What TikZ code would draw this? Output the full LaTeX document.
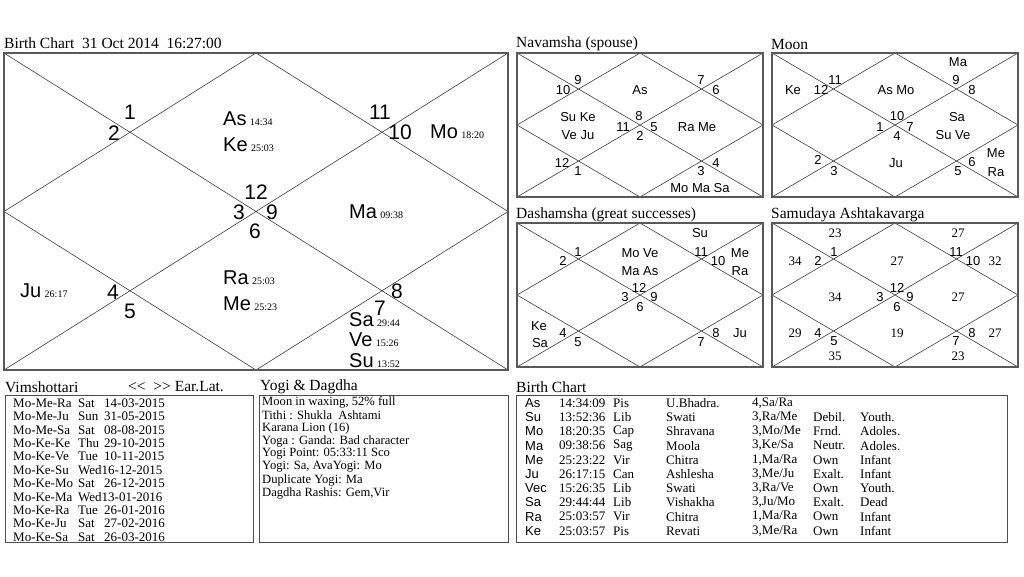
\documentclass[tikz,border=0pt]{standalone}
\usepackage{fontspec}
\setmainfont{Liberation Serif}
\newfontfamily\arialf{Liberation Sans}
\tikzset{
  frame/.style={draw=black!65, line width=1.6pt},
  grid/.style={draw=black!75, line width=0.6pt},
  hn/.style={font=\arialf\fontsize{21}{21}\selectfont, inner sep=0pt},
  pl/.style={font=\arialf\fontsize{20}{20}\selectfont, inner sep=0pt, anchor=west},
  dg/.style={font=\fontsize{10}{10}\selectfont, inner sep=0pt, anchor=base west},
  sn/.style={font=\arialf\fontsize{13}{13}\selectfont, inner sep=0pt},
  av/.style={font=\fontsize{13}{13}\selectfont, inner sep=0pt},
  ttl/.style={font=\fontsize{15.5}{15.5}\selectfont, inner sep=0pt, anchor=west},
  txt/.style={font=\fontsize{13}{13}\selectfont, inner sep=0pt, anchor=west},
  ytx/.style={font=\fontsize{12.6}{12.6}\selectfont, inner sep=0pt, anchor=west},
  stx/.style={font=\arialf\fontsize{13}{13}\selectfont, inner sep=0pt, anchor=west},
  tbox/.style={draw=black!70, line width=1pt},
}
\newcommand\chartframe[4]{%
  \draw[grid] (#1,#2) -- (#3,#4) (#1,#4) -- (#3,#2);
  \draw[grid] ({(#1+#3)/2},#2) -- (#3,{(#2+#4)/2}) -- ({(#1+#3)/2},#4) -- (#1,{(#2+#4)/2}) -- cycle;
  \draw[frame] (#1,#2) rectangle (#3,#4);
}
\newcommand\pd[4]{\node[pl] (#1) at (#2) {#3}; \node[dg] (#1d) at ([xshift=3pt]#1.base east) {#4};}
\newcommand\vrow[4]{%
  \node[txt] (v#1a) at (13,{403+#1*13.4}) {#2};
  \node[txt] (v#1b) at (78,{403+#1*13.4}) {#3};
  \node[txt] (v#1c) at (104,{403+#1*13.4}) {#4};
}
\newcommand\trow[8]{%
  \node[stx] (t#1a) at (525,{403+#1*14.2}) {#2};
  \node[txt] (t#1b) at (559,{403+#1*14.2}) {#3};
  \node[txt] (t#1c) at (613,{403+#1*14.2}) {#4};
  \node[txt] (t#1d) at (666,{403+#1*14.2}) {#5};
  \node[txt] (t#1e) at (752,{403+#1*14.2}) {#6};
  \node[txt] (t#1f) at (813,{403+#1*14.2}) {#7};
  \node[txt] (t#1g) at (860,{403+#1*14.2}) {#8};
}
\begin{document}
\begin{tikzpicture}[x=1pt,y=-1pt]
\fill[white] (0,0) rectangle (1024,576);
\useasboundingbox (0,0) rectangle (1024,576);

% ---------- Main birth chart ----------
\node[ttl] (mt) at (4,43) {Birth Chart\ \ 31 Oct 2014\ \ 16:27:00};
\chartframe{4}{53}{508}{370}
\node[hn] (m1) at (130,112) {1};
\node[hn] (m2) at (114,133) {2};
\node[hn] (m11) at (380,112) {11};
\node[hn] (m10) at (400,132) {10};
\node[hn] (m12) at (256,192) {12};
\node[hn] (m3) at (239,212) {3};
\node[hn] (m9) at (272,212) {9};
\node[hn] (m6) at (255,231) {6};
\node[hn] (m4) at (113,292) {4};
\node[hn] (m5) at (130,311) {5};
\node[hn] (m8) at (397,291) {8};
\node[hn] (m7) at (380,308) {7};
\pd{pAs}{223,119}{As}{14:34}
\pd{pKe}{223,145}{Ke}{25:03}
\pd{pMo}{430,132}{Mo}{18:20}
\pd{pMa}{349,212}{Ma}{09:38}
\pd{pJu}{20,291}{Ju}{26:17}
\pd{pRa}{223,278}{Ra}{25:03}
\pd{pMe}{223,304}{Me}{25:23}
\pd{pSa}{349,320}{Sa}{29:44}
\pd{pVe}{349,340}{Ve}{15:26}
\pd{pSu}{349,361}{Su}{13:52}

% ---------- Navamsha ----------
\node[ttl] (nt) at (516,44) {Navamsha (spouse)};
\chartframe{517}{53}{763}{197}
\node[sn] (n9) at (578,80) {9};
\node[sn] (n10) at (563,90) {10};
\node[sn] (nAs) at (640,90) {As};
\node[sn] (n7) at (701,80) {7};
\node[sn] (n6) at (716,90) {6};
\node[sn] (nSK) at (578,117) {Su Ke};
\node[sn] (nVJ) at (578,135) {Ve Ju};
\node[sn] (n8) at (639,116) {8};
\node[sn] (n11) at (623,127) {11};
\node[sn] (n5) at (654,127) {5};
\node[sn] (n2) at (640,136) {2};
\node[sn] (nRM) at (697,127) {Ra Me};
\node[sn] (n12) at (562,163) {12};
\node[sn] (n1) at (578,171) {1};
\node[sn] (n4) at (716,163) {4};
\node[sn] (n3) at (701,171) {3};
\node[sn] (nMMS) at (700,188) {Mo Ma Sa};

% ---------- Moon ----------
\node[ttl] (ot) at (771,44) {Moon};
\chartframe{772}{53}{1018}{197}
\node[sn] (oMa) at (958,62) {Ma};
\node[sn] (oKe) at (793,90) {Ke};
\node[sn] (o12) at (821,90) {12};
\node[sn] (o11) at (835,80) {11};
\node[sn] (oAM) at (896,90) {As Mo};
\node[sn] (o9) at (956,80) {9};
\node[sn] (o8) at (972,90) {8};
\node[sn] (o10) at (897,116) {10};
\node[sn] (o1) at (880,127) {1};
\node[sn] (o7) at (910,127) {7};
\node[sn] (o4) at (897,136) {4};
\node[sn] (oSa) at (957,117) {Sa};
\node[sn] (oSV) at (953,135) {Su Ve};
\node[sn] (o2) at (818,160) {2};
\node[sn] (o3) at (834,171) {3};
\node[sn] (oJu) at (896,163) {Ju};
\node[sn] (o5) at (958,171) {5};
\node[sn] (o6) at (972,162) {6};
\node[sn] (oMe) at (996,153) {Me};
\node[sn] (oRa) at (996,172) {Ra};

% ---------- Dashamsha ----------
\node[ttl] (dt) at (516,215) {Dashamsha (great successes)};
\chartframe{517}{223}{763}{367}
\node[sn] (dSu) at (700,233) {Su};
\node[sn] (d1) at (578,252) {1};
\node[sn] (d2) at (563,261) {2};
\node[sn] (dMV) at (640,253) {Mo Ve};
\node[sn] (dMA) at (640,271) {Ma As};
\node[sn] (d11) at (701,252) {11};
\node[sn] (d10) at (718,261) {10};
\node[sn] (dMe) at (740,253) {Me};
\node[sn] (dRa) at (740,271) {Ra};
\node[sn] (d12) at (639,288) {12};
\node[sn] (d3) at (625,297) {3};
\node[sn] (d9) at (654,297) {9};
\node[sn] (d6) at (640,307) {6};
\node[sn] (dKe) at (539,326) {Ke};
\node[sn] (dSa) at (540,343) {Sa};
\node[sn] (d4) at (563,333) {4};
\node[sn] (d5) at (578,342) {5};
\node[sn] (d8) at (716,333) {8};
\node[sn] (d7) at (701,342) {7};
\node[sn] (dJu) at (740,333) {Ju};

% ---------- Samudaya Ashtakavarga ----------
\node[ttl] (st) at (771,215) {Samudaya Ashtakavarga};
\chartframe{772}{223}{1018}{367}
\node[av] (s23a) at (835,233) {23};
\node[av] (s27a) at (958,233) {27};
\node[sn] (s1) at (834,252) {1};
\node[av] (s34a) at (795,261) {34};
\node[sn] (s2) at (818,261) {2};
\node[av] (s27b) at (897,261) {27};
\node[sn] (s11) at (956,252) {11};
\node[sn] (s10) at (973,261) {10};
\node[av] (s32) at (995,261) {32};
\node[av] (s34b) at (835,297) {34};
\node[sn] (s12) at (897,288) {12};
\node[sn] (s3) at (880,297) {3};
\node[sn] (s9) at (910,297) {9};
\node[sn] (s6) at (897,307) {6};
\node[av] (s27c) at (958,297) {27};
\node[av] (s29) at (795,333) {29};
\node[sn] (s4) at (818,333) {4};
\node[sn] (s5) at (834,341) {5};
\node[av] (s19) at (897,333) {19};
\node[sn] (s8) at (972,333) {8};
\node[sn] (s7) at (956,341) {7};
\node[av] (s27d) at (995,333) {27};
\node[av] (s35) at (835,356) {35};
\node[av] (s23b) at (958,356) {23};

% ---------- Vimshottari ----------
\node[ttl] (vt) at (5,387) {Vimshottari};
\node[ttl] (vnav) at (128,387) {<\kern0pt<\ \ >\kern0pt>\ Ear.Lat.};
\draw[tbox] (5,395) rectangle (253,542);
\vrow{0}{Mo-Me-Ra}{Sat}{14-03-2015}
\vrow{1}{Mo-Me-Ju}{Sun}{31-05-2015}
\vrow{2}{Mo-Me-Sa}{Sat}{08-08-2015}
\vrow{3}{Mo-Ke-Ke}{Thu}{29-10-2015}
\vrow{4}{Mo-Ke-Ve}{Tue}{10-11-2015}
\node[txt] (v5a) at (13,{403+5*13.4}) {Mo-Ke-Su};
\node[txt] (v5b) at (78,{403+5*13.4}) {Wed16-12-2015};
\vrow{6}{Mo-Ke-Mo}{Sat}{26-12-2015}
\node[txt] (v7a) at (13,{403+7*13.4}) {Mo-Ke-Ma};
\node[txt] (v7b) at (78,{403+7*13.4}) {Wed13-01-2016};
\vrow{8}{Mo-Ke-Ra}{Tue}{26-01-2016}
\vrow{9}{Mo-Ke-Ju}{Sat}{27-02-2016}
\vrow{10}{Mo-Ke-Sa}{Sat}{26-03-2016}

% ---------- Yogi & Dagdha ----------
\node[ttl] (yt) at (260,387) {Yogi \& Dagdha};
\draw[tbox] (259,395) rectangle (508,542);
\node[ytx] (y0) at (262,402) {Moon in waxing, 52\% full};
\node[ytx] (y1) at (262,415) {Tithi : Shukla\ \ Ashtami};
\node[ytx] (y2) at (262,428) {Karana Lion (16)};
\node[ytx] (y3) at (262,441) {Yoga : Ganda: Bad character};
\node[ytx] (y4) at (262,454) {Yogi Point: 05:33:11 Sco};
\node[ytx] (y5) at (262,467) {Yogi: Sa, AvaYogi: Mo};
\node[ytx] (y6) at (262,480) {Duplicate Yogi: Ma};
\node[ytx] (y7) at (262,493) {Dagdha Rashis: Gem,Vir};

% ---------- Birth Chart table ----------
\node[ttl] (bt) at (516,387) {Birth Chart};
\draw[tbox] (516,395) rectangle (1007,542);
\trow{0}{As}{14:34:09}{Pis}{U.Bhadra.}{4,Sa/Ra}{}{}
\trow{1}{Su}{13:52:36}{Lib}{Swati}{3,Ra/Me}{Debil.}{Youth.}
\trow{2}{Mo}{18:20:35}{Cap}{Shravana}{3,Mo/Me}{Frnd.}{Adoles.}
\trow{3}{Ma}{09:38:56}{Sag}{Moola}{3,Ke/Sa}{Neutr.}{Adoles.}
\trow{4}{Me}{25:23:22}{Vir}{Chitra}{1,Ma/Ra}{Own}{Infant}
\trow{5}{Ju}{26:17:15}{Can}{Ashlesha}{3,Me/Ju}{Exalt.}{Infant}
\trow{6}{Vec}{15:26:35}{Lib}{Swati}{3,Ra/Ve}{Own}{Youth.}
\trow{7}{Sa}{29:44:44}{Lib}{Vishakha}{3,Ju/Mo}{Exalt.}{Dead}
\trow{8}{Ra}{25:03:57}{Vir}{Chitra}{1,Ma/Ra}{Own}{Infant}
\trow{9}{Ke}{25:03:57}{Pis}{Revati}{3,Me/Ra}{Own}{Infant}
\end{tikzpicture}
\end{document}
